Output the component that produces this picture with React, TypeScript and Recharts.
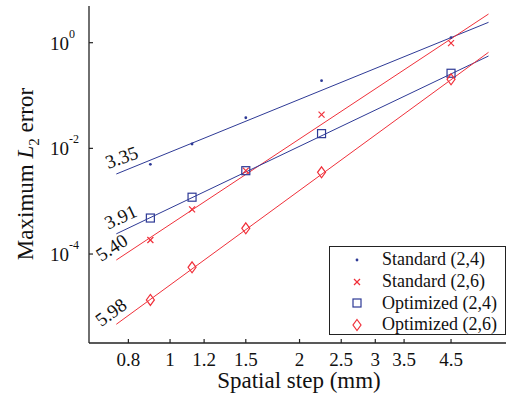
import React from 'react';
import { ScatterChart, Scatter, XAxis, YAxis, Legend } from 'recharts';

// measured points, spatial step in mm
const STEPS = [0.9, 1.125, 1.5, 2.25, 4.5];
const STANDARD_24 = [4.99e-3, 1.21e-2, 3.8e-2, 0.191, 1.25];
const STANDARD_26 = [1.84e-4, 7.0e-4, 3.78e-3, 0.0434, 0.98];
const OPTIMIZED_24 = [4.8e-4, 1.19e-3, 3.78e-3, 0.019, 0.264];
const OPTIMIZED_26 = [1.35e-5, 5.6e-5, 3.07e-4, 3.52e-3, 0.203];

// fitted convergence lines (end points)
const FIT_STEPS = [0.75, 5.5];
const FIT_S24 = [3.27e-3, 2.43];
const FIT_S26 = [7.7e-5, 3.49];
const FIT_O24 = [2.41e-4, 0.56];
const FIT_O26 = [4.68e-6, 0.658];
const RATES = ['3.35', '5.40', '3.91', '5.98'];

const SERIES_NAMES = ['Standard (2,4)', 'Standard (2,6)', 'Optimized (2,4)', 'Optimized (2,6)'];

const X_TICKS = [0.8, 1, 1.2, 1.5, 2, 2.5, 3, 3.5, 4.5];
const Y_TICKS = [1e-4, 1e-2, 1];

const X_DOMAIN = [0.648, 6.17];
const Y_DOMAIN = [2.07e-6, 4.95];

const BLUE = '#2e3a96';
const RED = '#f0303a';
const AXIS = '#222';
const FONT = "'Liberation Serif'";

type Marker = 'dot' | 'cross' | 'square' | 'diamond';

const MARKERS: Marker[] = ['dot', 'cross', 'square', 'diamond'];
const COLORS = [BLUE, RED, BLUE, RED];

const toPoints = (xs: number[], ys: number[]) => xs.map((x, i) => ({ x, y: ys[i] }));

function drawMarker(kind: Marker, cx: number, cy: number, color: string) {
  if (kind === 'dot') return <circle cx={cx} cy={cy} r={1.4} fill={color} />;
  if (kind === 'cross')
    return (
      <g stroke={color} strokeWidth={1.2}>
        <line x1={cx - 3} y1={cy - 3} x2={cx + 3} y2={cy + 3} />
        <line x1={cx - 3} y1={cy + 3} x2={cx + 3} y2={cy - 3} />
      </g>
    );
  if (kind === 'square')
    return <rect x={cx - 4} y={cy - 4} width={8} height={8} fill="none" stroke={color} strokeWidth={1.2} />;
  return (
    <polygon
      points={`${cx},${cy - 5.5} ${cx + 4},${cy} ${cx},${cy + 5.5} ${cx - 4},${cy}`}
      fill="none"
      stroke={color}
      strokeWidth={1.2}
    />
  );
}

// rate label placement relative to fit line start
const RATE_STYLE = [
  { dx: -8, dy: -5, angle: -20 },
  { dx: -15, dy: 2, angle: -33 },
  { dx: -8, dy: -4, angle: -25 },
  { dx: -15, dy: 3, angle: -36 },
];

const makeFitShape = (k: number) => (props: any) => {
  const { cx, cy } = props;
  if (props.payload?.x !== FIT_STEPS[0]) return <g />;
  const s = RATE_STYLE[k];
  const tx = cx + s.dx;
  const ty = cy + s.dy;
  return (
    <text
      x={tx}
      y={ty}
      transform={`rotate(${s.angle} ${tx} ${ty})`}
      fontFamily={FONT}
      style={{ fontFamily: FONT }}
      fontSize={19}
      fill="#111"
      textAnchor="start"
    >
      {RATES[k]}
    </text>
  );
};

const XTick = (props: any) => {
  const { x, y, payload } = props;
  return (
    <g>
      <line x1={x} y1={y} x2={x} y2={y - 4} stroke={AXIS} strokeWidth={1.2} />
      <text
        x={x}
        y={y + 23}
        textAnchor="middle"
        fontFamily={FONT}
        style={{ fontFamily: FONT }}
        fontSize={19}
        fill="#111"
      >
        {String(payload.value)}
      </text>
    </g>
  );
};

const TopTick = (props: any) => {
  const { x, y } = props;
  return <line x1={x} y1={y} x2={x} y2={y + 4} stroke={AXIS} strokeWidth={1.2} />;
};

const YTick = (props: any) => {
  const { x, y, payload } = props;
  const exp = Math.round(Math.log10(payload.value));
  return (
    <g>
      <line x1={x} y1={y} x2={x + 4} y2={y} stroke={AXIS} strokeWidth={1.2} />
      <text x={x - 39} y={y + 7} fontFamily={FONT} style={{ fontFamily: FONT }} fontSize={19} fill="#111">
        10
        <tspan dy={-12} fontSize={12}>
          {String(exp)}
        </tspan>
      </text>
    </g>
  );
};

const renderLegend = () => (
  <div
    style={{
      border: `1px solid ${AXIS}`,
      background: '#fff',
      width: 177,
      height: 89,
      boxSizing: 'border-box',
      paddingTop: 2,
      fontFamily: FONT,
      fontSize: 18,
      color: '#111',
    }}
  >
    {SERIES_NAMES.map((name, i) => (
      <div key={name} style={{ display: 'flex', alignItems: 'center', height: 21.7 }}>
        <svg width={52} height={20} style={{ flex: 'none' }}>
          {drawMarker(MARKERS[i], 27, 10, COLORS[i])}
        </svg>
        <span style={{ whiteSpace: 'nowrap', fontFamily: FONT }}>{name}</span>
      </div>
    ))}
  </div>
);

export default function App() {
  const measured = [STANDARD_24, STANDARD_26, OPTIMIZED_24, OPTIMIZED_26].map((ys) => toPoints(STEPS, ys));
  const fits = [FIT_S24, FIT_S26, FIT_O24, FIT_O26].map((ys) => toPoints(FIT_STEPS, ys));

  return (
    <div
      style={{
        position: 'absolute',
        left: 0,
        top: 0,
        width: 506,
        height: 396,
        overflow: 'hidden',
        background: '#fff',
        fontFamily: FONT,
      }}
    >
      <ScatterChart width={510} height={396} margin={{ top: 6, right: 0, left: 0, bottom: 0 }}>
        <XAxis
          dataKey="x"
          type="number"
          scale="log"
          domain={X_DOMAIN}
          allowDataOverflow
          ticks={X_TICKS}
          interval={0}
          height={53}
          tickSize={0}
          tickMargin={0}
          tick={<XTick />}
          axisLine={{ stroke: AXIS, strokeWidth: 1.3 }}
          tickLine={false}
          label={{
            content: () => (
              <text
                x={299}
                y={388}
                textAnchor="middle"
                fontFamily={FONT}
                style={{ fontFamily: FONT }}
                fontSize={23}
                fill="#111"
              >
                Spatial step (mm)
              </text>
            ),
          }}
        />
        <XAxis
          xAxisId="top"
          orientation="top"
          dataKey="x"
          type="number"
          scale="log"
          domain={X_DOMAIN}
          allowDataOverflow
          ticks={X_TICKS}
          interval={0}
          height={0}
          tickSize={0}
          tickMargin={0}
          tick={<TopTick />}
          axisLine={{ stroke: AXIS, strokeWidth: 1.3 }}
          tickLine={false}
        />
        <YAxis
          dataKey="y"
          type="number"
          scale="log"
          domain={Y_DOMAIN}
          allowDataOverflow
          ticks={Y_TICKS}
          interval={0}
          width={89}
          tickSize={0}
          tickMargin={0}
          tick={<YTick />}
          axisLine={{ stroke: AXIS, strokeWidth: 1.3 }}
          tickLine={false}
          label={{
            content: () => (
              <text
                x={33}
                y={174}
                transform="rotate(-90 33 174)"
                textAnchor="middle"
                fontFamily={FONT}
                style={{ fontFamily: FONT }}
                fontSize={23}
                fill="#111"
              >
                Maximum{' '}
                <tspan fontStyle="italic">L</tspan>
                <tspan dy={6} fontSize={15}>
                  2
                </tspan>
                <tspan dy={-6}> error</tspan>
              </text>
            ),
          }}
        />
        {fits.map((pts, k) => (
          <Scatter
            key={`fit-${k}`}
            data={pts}
            line={{ stroke: COLORS[k], strokeWidth: 1 }}
            lineType="joint"
            shape={makeFitShape(k)}
            legendType="none"
            isAnimationActive={false}
          />
        ))}
        {measured.map((pts, k) => (
          <Scatter
            key={`pts-${k}`}
            name={SERIES_NAMES[k]}
            data={pts}
            fill={COLORS[k]}
            shape={(p: any) => drawMarker(MARKERS[k], p.cx, p.cy, COLORS[k])}
            isAnimationActive={false}
          />
        ))}
        <Legend
          layout="horizontal"
          verticalAlign="middle"
          align="center"
          content={renderLegend}
          wrapperStyle={{ left: 329, top: 246, width: 177 }}
        />
      </ScatterChart>
    </div>
  );
}
